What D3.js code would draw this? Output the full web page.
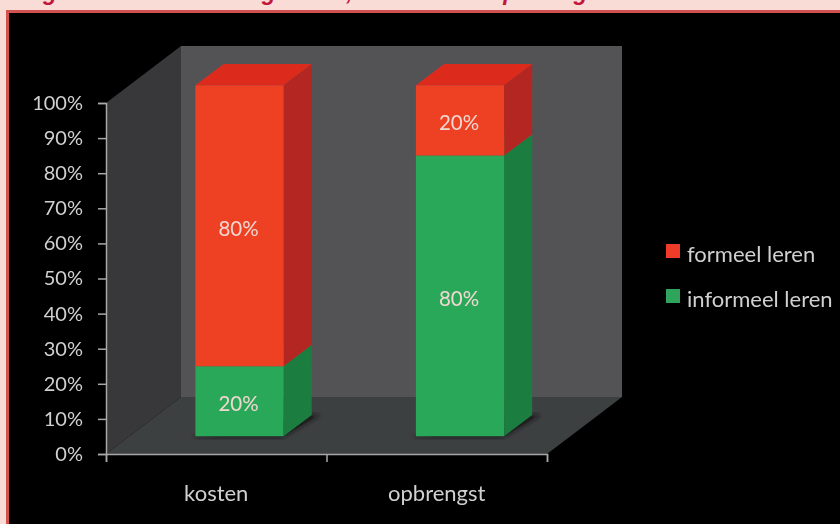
<!DOCTYPE html>
<html>
<head>
<meta charset="utf-8">
<title>kosten en opbrengst</title>
<script src="https://d3js.org/d3.v7.min.js"></script>
<style>
	html, body { margin: 0; padding: 0; background: #f8dcd5; overflow: hidden; }
	svg { display: block; }
	text { font-family: Lato, "Open Sans", sans-serif; }
</style>
</head>
<body>
<svg class="chart" width="840" height="524"></svg>
<script>
// values
var categories = ["kosten", "opbrengst"];
var formeel = [80, 20];
var informeel = [20, 80];
var seriesNames = ["formeel leren", "informeel leren"];
var yTicks = [0, 10, 20, 30, 40, 50, 60, 70, 80, 90, 100];
// only the descenders of this heading are visible, the wording is a best guess
var heading = "Figuur 3: Verhouding leren, kosten en opbrengsten";

window.onload = function() {

	var svg = d3.select(".chart");

	// scales of the front axis plane
	var y = d3.scaleLinear().domain([0, 100]).range([454, 103]),
		xEdge = d3.scaleLinear().domain([0, categories.length]).range([106, 547]),
		xBand = d3.scaleBand().domain(categories).range([106, 547]).paddingInner(0.6).paddingOuter(0.3);

	// depth of the 3d box: wall at 1, bar front and back in between
	var depth = {dx: 75, dy: -57},
		barFront = 0.31,
		barBack = 0.685;

	function project(px, value, d) {
		return [px + depth.dx * d, y(value) + depth.dy * d];
	}

	function face(points) {
		return "M" + points.map(function(p) { return p.join(","); }).join("L") + "Z";
	}

	var defs = svg.append("defs");
	defs.append("filter").attr("id", "soft")
		.append("feGaussianBlur").attr("stdDeviation", 2);
	defs.append("filter").attr("id", "photo")
		.append("feGaussianBlur").attr("stdDeviation", 0.6);

	// page and frame
	svg.append("text")
		.attr("x", 20)
		.attr("y", 0)
		.attr("fill", "#c4143c")
		.attr("textLength", 620)
		.style("font-family", "'Liberation Sans', sans-serif")
		.style("font-weight", "bold")
		.style("font-style", "italic")
		.style("font-size", "23px")
		.text(heading);
	svg.append("rect")
		.attr("x", 6).attr("y", 10)
		.attr("width", 834).attr("height", 514)
		.attr("fill", "#d0534f");
	svg.append("rect")
		.attr("x", 9).attr("y", 13)
		.attr("width", 831).attr("height", 511)
		.attr("fill", "#000");

	var plot = svg.append("g").attr("filter", "url(#photo)");

	// walls and floor
	var x0 = xEdge.range()[0], x1 = xEdge.range()[1];
	plot.append("path")
		.attr("d", face([project(x0, 0, 1), project(x1, 0, 1), project(x1, 100, 1), project(x0, 100, 1)]))
		.attr("fill", "#525357");
	plot.append("path")
		.attr("d", face([project(x0, 0, 0), project(x0, 0, 1), project(x0, 100, 1), project(x0, 100, 0)]))
		.attr("fill", "#38393b");
	plot.append("path")
		.attr("d", face([project(x0, 0, 0), project(x1, 0, 0), project(x1, 0, 1), project(x0, 0, 1)]))
		.attr("fill", "#3d3f41");

	// stack the two series, green at the bottom
	var rows = categories.map(function(c, i) {
		return {category: c, informeel: informeel[i], formeel: formeel[i]};
	});
	var stacked = d3.stack().keys(["informeel", "formeel"])(rows);
	var colors = {
		informeel: {front: "#2aa85a", side: "#1f7d3f", top: "#26904c"},
		formeel: {front: "#ee3f24", side: "#b42620", top: "#dc2c1e"}
	};

	categories.forEach(function(c, i) {
		var left = xBand(c),
			right = left + xBand.bandwidth();

		// shadow on the floor
		plot.append("path")
			.attr("d", face([project(left - 4, 0, barFront - 0.01), project(right, 0, barFront - 0.01), project(right + 8, 0, barBack), project(right, 0, barBack)]))
			.attr("fill", "#161617")
			.attr("filter", "url(#soft)");

		stacked.forEach(function(layer) {
			var v0 = layer[i][0],
				v1 = layer[i][1],
				col = colors[layer.key];

			plot.append("path")
				.attr("d", face([project(right, v0, barFront), project(right, v0, barBack), project(right, v1, barBack), project(right, v1, barFront)]))
				.attr("fill", col.side);
			plot.append("path")
				.attr("d", face([project(left, v1, barFront), project(right, v1, barFront), project(right, v1, barBack), project(left, v1, barBack)]))
				.attr("fill", col.top);
			plot.append("path")
				.attr("d", face([project(left, v0, barFront), project(right, v0, barFront), project(right, v1, barFront), project(left, v1, barFront)]))
				.attr("fill", col.front);
			plot.append("text")
				.attr("x", project((left + right) / 2, 0, barFront)[0] - 1)
				.attr("y", project(0, (v0 + v1) / 2, barFront)[1] + 10)
				.attr("text-anchor", "middle")
				.attr("fill", "#f0d8d0")
				.style("font-size", "20.5px")
				.text(layer[i].data[layer.key] + "%");
		});
	});

	// axes
	var yAxis = d3.axisLeft(y)
		.tickValues(yTicks)
		.tickSize(8)
		.tickPadding(15)
		.tickFormat(function(d) { return d + "%"; });
	var xAxis = d3.axisBottom(xEdge)
		.tickValues(d3.range(categories.length + 1))
		.tickSize(8)
		.tickFormat("");

	var gy = plot.append("g")
		.attr("transform", "translate(" + x0 + ",0)")
		.call(yAxis);
	var gx = plot.append("g")
		.attr("transform", "translate(0," + y(0) + ")")
		.call(xAxis);

	plot.selectAll(".domain, .tick line")
		.attr("stroke", "#a8a8a8")
		.attr("stroke-width", 1.5);
	gy.selectAll("text")
		.attr("fill", "#d0d0d0")
		.style("font-size", "20px");

	// category labels
	plot.selectAll(".cat")
		.data(categories)
		.enter().append("text")
		.attr("class", "cat")
		.attr("x", function(d) { return xBand(d) + xBand.bandwidth() / 2; })
		.attr("y", 501)
		.attr("text-anchor", "middle")
		.attr("fill", "#d0d0d0")
		.style("font-size", "22px")
		.text(function(d) { return d; });

	// legend
	var legend = plot.selectAll(".legend")
		.data(seriesNames)
		.enter().append("g")
		.attr("class", "legend")
		.attr("transform", function(d, i) { return "translate(666," + (244 + i * 45) + ")"; });
	legend.append("rect")
		.attr("width", 14)
		.attr("height", 14)
		.attr("fill", function(d, i) { return i == 0 ? "#ef3b2a" : "#2ea55a"; });
	legend.append("text")
		.attr("x", 21)
		.attr("y", 17.5)
		.attr("fill", "#d0d0d0")
		.style("font-size", "22px")
		.text(function(d) { return d; });
};
</script>
</body>
</html>
